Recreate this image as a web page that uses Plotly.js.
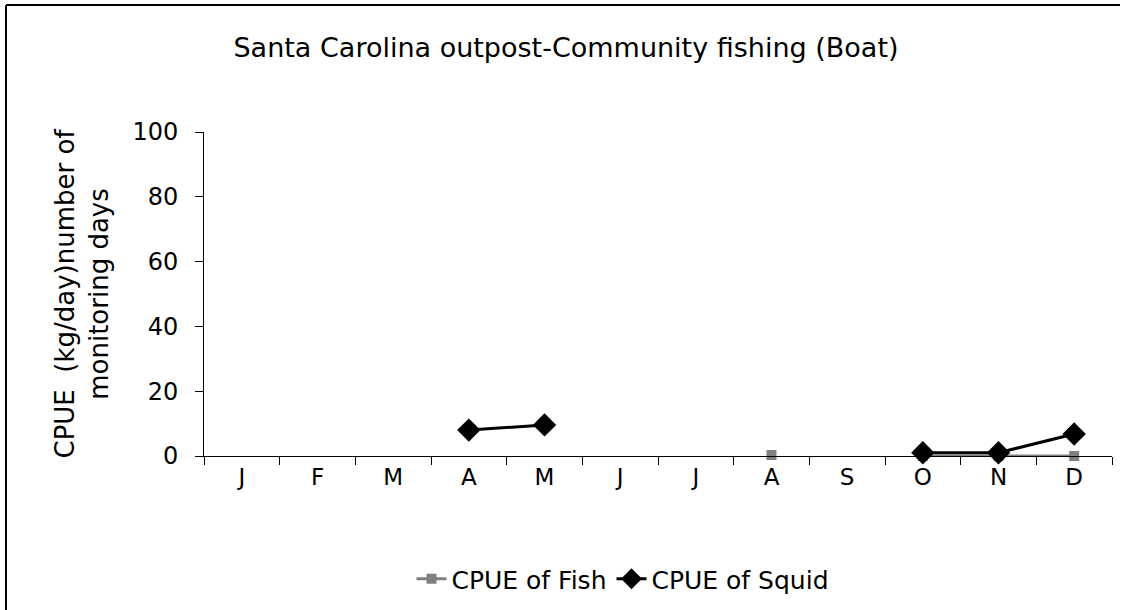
<!DOCTYPE html>
<html>
<head>
<meta charset="utf-8">
<script src="https://cdn.plot.ly/plotly-3.0.1.min.js"></script>
<style>html,body{margin:0;padding:0;background:#fff;}#chart{width:1125px;height:610px;}</style>
</head>
<body>
<div id="chart"></div>
<script>
const months = ["J","F","M","A","M","J","J","A","S","O","N","D"];
const monthKeys = ["Jan","Feb","Mar","Apr","May","Jun","Jul","Aug","Sep","Oct","Nov","Dec"];
const fishCPUE = [null,null,null,null,null,null,null,0.3,null,0,0,0];
const squidCPUE = [null,null,null,8,9.6,null,null,null,null,1,1,6.8];
const yTicks = [0,20,40,60,80,100];

const font = "DejaVu Sans, Liberation Sans, Arial, sans-serif";
const plotL = 204, plotR = 1112, plotT = 132, plotB = 456;
const W = 1125, H = 610;
const pw = plotR - plotL, ph = plotB - plotT;
const px = x => (x - plotL) / pw;
const py = y => (plotB - y) / ph;

const traces = [
  {x: monthKeys, y: fishCPUE, name: "CPUE of Fish", type: "scatter", mode: "lines+markers",
   line: {color: "#808080", width: 3}, marker: {symbol: "square", size: 10, color: "#808080"},
   connectgaps: false, cliponaxis: false},
  {x: monthKeys, y: squidCPUE, name: "CPUE of Squid", type: "scatter", mode: "lines+markers",
   line: {color: "#000000", width: 3}, marker: {symbol: "diamond", size: 18, color: "#000000"},
   connectgaps: false, cliponaxis: false}
];

const layout = {
  width: W, height: H,
  margin: {l: plotL, r: W - plotR, t: plotT, b: H - plotB, autoexpand: false},
  paper_bgcolor: "#ffffff", plot_bgcolor: "#ffffff",
  font: {family: font, size: 24, color: "#000"},
  title: {text: "Santa Carolina outpost-Community fishing (Boat)", font: {family: font, size: 27, color: "#000"},
          x: px(566), xref: "paper", xanchor: "center", y: 1 - 48 / H, yanchor: "middle"},
  xaxis: {type: "category", tickmode: "array", tickvals: monthKeys, ticktext: months,
          tickson: "boundaries", ticks: "outside", ticklen: 8, tickcolor: "#000", tickwidth: 1,
          showline: true, linecolor: "#000", linewidth: 1, showgrid: false, zeroline: false,
          range: [-0.5, 11.5], fixedrange: true, tickfont: {family: font, size: 23, color: "#000"}},
  yaxis: {range: [0, 100], tickmode: "array", tickvals: yTicks, ticks: "outside", ticklen: 8,
          tickcolor: "#000", showline: true, linecolor: "#000", linewidth: 1, showgrid: false,
          zeroline: false, ticklabelstandoff: 12, tickfont: {family: font, size: 24, color: "#000"},
          title: {text: "CPUE  (kg/day)number of<br>monitoring days", font: {family: font, size: 26, color: "#000"}, standoff: 16}},
  legend: {orientation: "h", x: px(623), xanchor: "center", y: py(579), yanchor: "middle",
           font: {family: font, size: 25, color: "#000"}, bgcolor: "rgba(0,0,0,0)"},
  showlegend: true,
  shapes: [
    {type: "line", xref: "paper", yref: "paper", x0: px(6), x1: px(1120), y0: py(5), y1: py(5),
     line: {color: "#000", width: 2}},
    {type: "line", xref: "paper", yref: "paper", x0: px(6), x1: px(6), y0: py(5), y1: py(615),
     line: {color: "#000", width: 2}}
  ]
};

Plotly.newPlot("chart", traces, layout, {displayModeBar: false, staticPlot: true});
</script>
</body>
</html>
